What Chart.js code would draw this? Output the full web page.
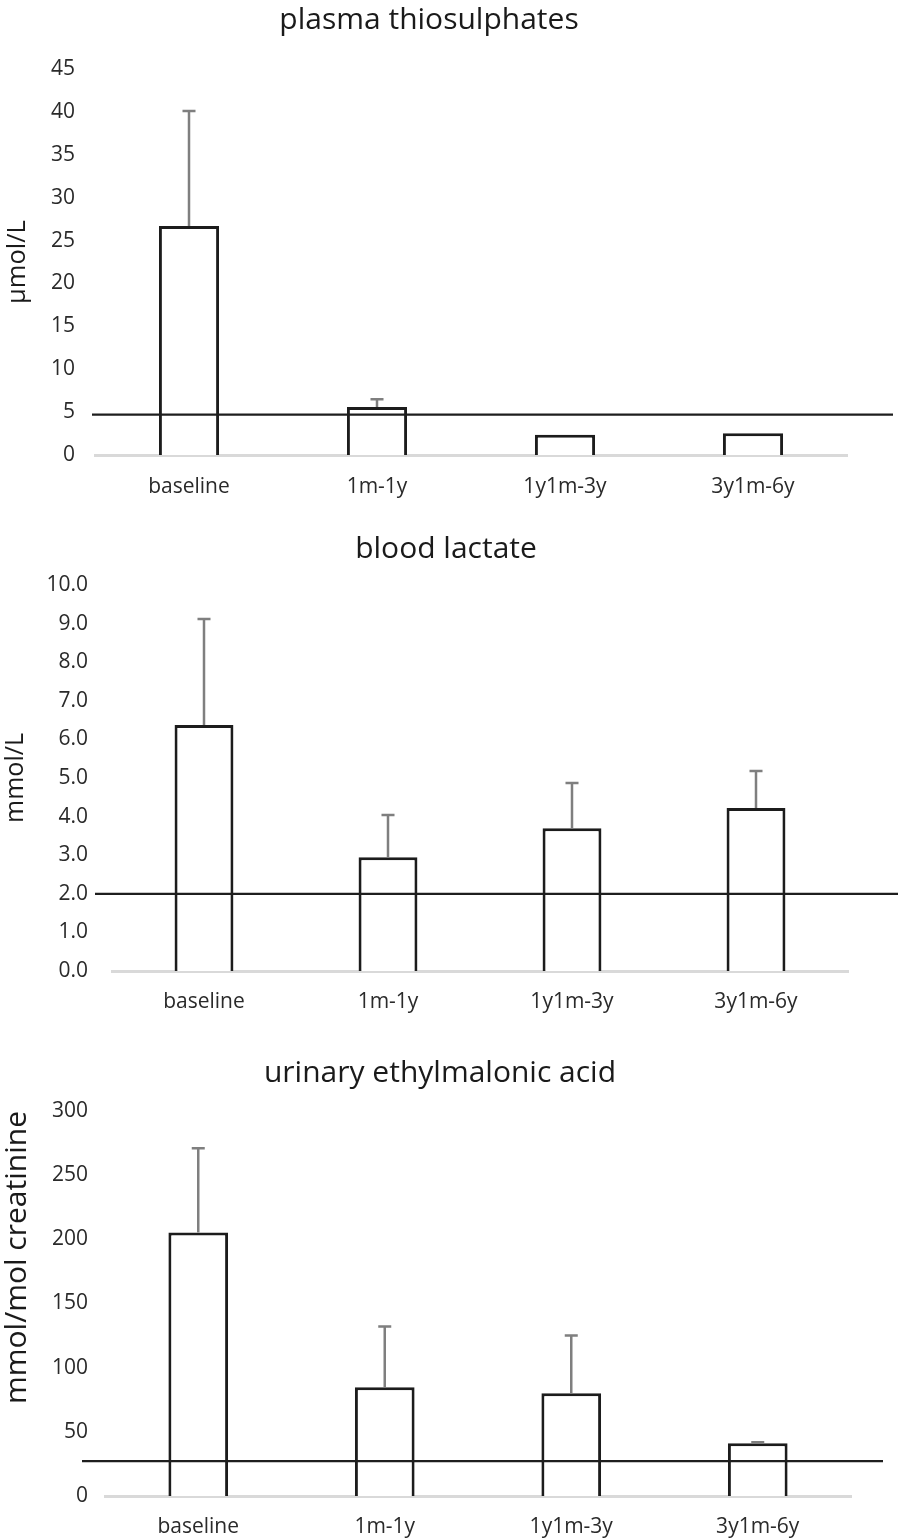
<!DOCTYPE html>
<html><head><meta charset="utf-8">
<script src="https://cdn.jsdelivr.net/npm/chart.js@4.4.1/dist/chart.umd.min.js"></script>
<style>
html,body{margin:0;padding:0;background:#fff;}
body{width:904px;height:1540px;position:relative;overflow:hidden;}
.box{position:absolute;left:0;width:904px;}
</style></head><body>
<div class="box" style="top:0;height:505px"><canvas id="c1"></canvas></div>
<div class="box" style="top:520px;height:510px"><canvas id="c2"></canvas></div>
<div class="box" style="top:1045px;height:495px"><canvas id="c3"></canvas></div>
<script>
// ---- data ----
const categories = ['baseline', '1m-1y', '1y1m-3y', '3y1m-6y'];

const thioTitle = 'plasma thiosulphates';
const thioUnit = 'µmol/L';
const thioMean = [26.7, 5.6, 2.35, 2.55];
const thioUpper = [40.1, 6.5, null, null];
const thioRef = 4.7;
const thioTicks = [0, 5, 10, 15, 20, 25, 30, 35, 40, 45];

const lactTitle = 'blood lactate';
const lactUnit = 'mmol/L';
const lactMean = [6.37, 2.95, 3.70, 4.22];
const lactUpper = [9.12, 4.04, 4.87, 5.18];
const lactRef = 2.0;
const lactTicks = [0, 1, 2, 3, 4, 5, 6, 7, 8, 9, 10];

const emaTitle = 'urinary ethylmalonic acid';
const emaUnit = 'mmol/mol creatinine';
const emaMean = [205.3, 84.8, 80.0, 41.2];
const emaUpper = [271, 132, 125, 41.8];
const emaRef = 27.2;
const emaTicks = [0, 50, 100, 150, 200, 250, 300];

// ---- plugins ----
const refLinePlugin = {
  id: 'refLine',
  afterDatasetsDraw(chart, args, opts) {
    if (opts.value == null) return;
    const y = chart.scales.y.getPixelForValue(opts.value);
    const ctx = chart.ctx;
    ctx.save();
    ctx.strokeStyle = '#1e1e1e';
    ctx.lineWidth = 2.2;
    ctx.beginPath();
    ctx.moveTo(chart.chartArea.left - opts.extendLeft, y);
    ctx.lineTo(chart.chartArea.right + opts.extendRight, y);
    ctx.stroke();
    ctx.restore();
  }
};
const errorBarPlugin = {
  id: 'errBars',
  afterDatasetsDraw(chart, args, opts) {
    const upper = opts.upper || [];
    const meta = chart.getDatasetMeta(0);
    const ys = chart.scales.y;
    const ctx = chart.ctx;
    ctx.save();
    ctx.strokeStyle = '#7f7f7f';
    ctx.lineWidth = 2.5;
    meta.data.forEach((bar, i) => {
      const u = upper[i];
      if (u == null) return;
      const x = bar.x;
      const yTop = ys.getPixelForValue(u);
      const yBase = ys.getPixelForValue(chart.data.datasets[0].data[i]);
      ctx.beginPath();
      ctx.moveTo(x, yBase);
      ctx.lineTo(x, yTop);
      ctx.moveTo(x - 6.5, yTop);
      ctx.lineTo(x + 6.5, yTop);
      ctx.stroke();
    });
    ctx.restore();
  }
};

const FONT = "'Open Sans', 'Noto Sans', sans-serif";

function makeChart(id, o) {
  return new Chart(document.getElementById(id), {
    type: 'bar',
    data: {
      labels: categories,
      datasets: [{
        data: o.mean,
        backgroundColor: '#ffffff',
        borderColor: '#1c1c1c',
        borderWidth: 3,
        borderSkipped: 'start',
        categoryPercentage: 1,
        barPercentage: 0.32
      }]
    },
    options: {
      responsive: true,
      maintainAspectRatio: false,
      animation: false,
      layout: { padding: { left: o.padLeft, right: o.padRight, top: 0, bottom: 0 } },
      plugins: {
        legend: { display: false },
        tooltip: { enabled: false },
        title: {
          display: true,
          text: o.title,
          color: '#1a1a1a',
          font: { family: FONT, size: 30, weight: 'normal' },
          padding: { top: o.titleTop, bottom: o.titleBottom }
        },
        refLine: { value: o.ref, extendLeft: o.extL, extendRight: o.extR },
        errBars: { upper: o.upper }
      },
      scales: {
        x: {
          grid: { display: false, drawTicks: false },
          border: { display: true, color: '#d9d9d9', width: 3 },
          ticks: { color: '#2a2a2a', font: { family: FONT, size: 21 }, padding: o.xPad },
          afterFit(s) { s.height = o.xHeight; }
        },
        y: {
          min: o.ticks[0],
          max: o.ticks[o.ticks.length - 1],
          grid: { display: false, drawTicks: false },
          border: { display: false },
          afterBuildTicks(s) { s.ticks = o.ticks.map(v => ({ value: v })); },
          ticks: {
            color: '#2a2a2a',
            font: { family: FONT, size: 21 },
            padding: o.tickPad,
            callback: v => Number(v).toFixed(o.decimals)
          },
          title: {
            display: true,
            text: o.unit,
            align: o.unitAlign,
            color: '#1a1a1a',
            font: { family: FONT, size: o.unitSize },
            padding: { top: o.unitPad, bottom: 0 }
          },
          afterFit(s) { s.width = o.yWidth; }
        }
      }
    },
    plugins: [refLinePlugin, errorBarPlugin]
  });
}

makeChart('c1', {
  title: thioTitle, unit: thioUnit, mean: thioMean, upper: thioUpper, ref: thioRef, ticks: thioTicks,
  decimals: 0, titleTop: 2, titleBottom: 31, xHeight: 50, xPad: 19,
  padLeft: 11, yWidth: 84, padRight: 57,
  tickPad: 20, unitSize: 25.5, unitPad: -8.5, unitAlign: 'center', extL: 3, extR: 46
});
makeChart('c2', {
  title: lactTitle, unit: lactUnit, mean: lactMean, upper: lactUpper, ref: lactRef, ticks: lactTicks,
  decimals: 1, titleTop: 11, titleBottom: 18, xHeight: 59, xPad: 18,
  padLeft: 44, yWidth: 68, padRight: 56,
  tickPad: 24, unitSize: 25, unitPad: -43, unitAlign: 'center', extL: 17, extR: 50
});
makeChart('c3', {
  title: emaTitle, unit: emaUnit, mean: emaMean, upper: emaUpper, ref: emaRef, ticks: emaTicks,
  decimals: 0, titleTop: 10, titleBottom: 20, xHeight: 44, xPad: 18,
  padLeft: 29, yWidth: 76, padRight: 53,
  tickPad: 17, unitSize: 30, unitPad: -30, unitAlign: 'end', extL: 23, extR: 32
});
</script>
</body></html>
